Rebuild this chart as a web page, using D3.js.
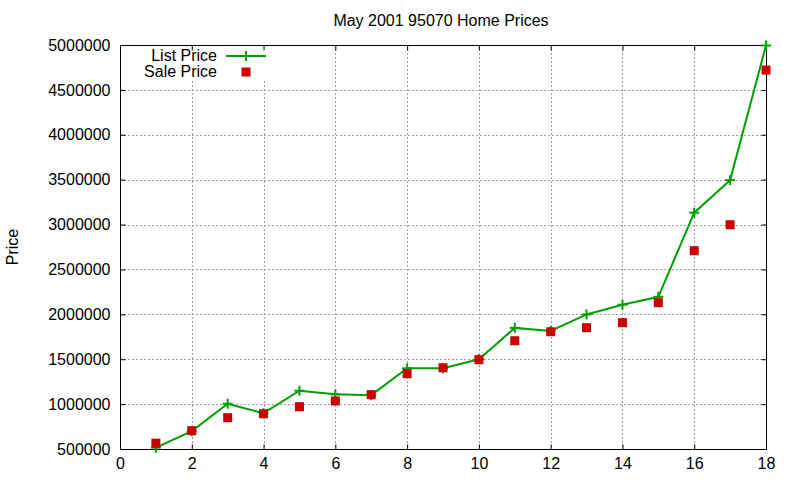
<!DOCTYPE html>
<html><head><meta charset="utf-8">
<script src="https://cdn.jsdelivr.net/npm/d3@7"></script>
<style>body{margin:0;background:#fff}svg{display:block}text{font-family:"Liberation Sans",Arial,sans-serif;}</style>
</head><body><svg id="c" width="800" height="480"></svg>
<script>
const xs = [1,2,3,4,5,6,7,8,9,10,11,12,13,14,15,16,17,18];
const listPrice = [515000,700000,1004000,899000,1149000,1109000,1100000,1399000,1399000,1499000,1849000,1815000,1999000,2107000,2195000,3132000,3495000,4995000];
const salePrice = [565000,704000,849000,893000,971000,1035000,1105000,1339000,1405000,1495000,1706000,1806000,1851000,1907000,2130000,2709000,2998000,4721000];
const xTicks = [0,2,4,6,8,10,12,14,16,18];
const yTicks = [500000,1000000,1500000,2000000,2500000,3000000,3500000,4000000,4500000,5000000];

const svg = d3.select("#c");
const L=120,R=766,T=45,B=449;
const x = d3.scaleLinear().domain([0,18]).range([L,R]);
const y = d3.scaleLinear().domain([500000,5000000]).range([B,T]);

// grid
const g = svg.append("g");
g.selectAll(".vg").data(xTicks.filter(d=>d>0&&d<18)).enter().append("line")
  .attr("x1",d=>Math.round(x(d))+0.5).attr("x2",d=>Math.round(x(d))+0.5).attr("y1",T).attr("y2",B)
  .attr("stroke","#a0a0a0").attr("stroke-dasharray","2,2");
g.selectAll(".hg").data(yTicks.filter(d=>d>500000&&d<5000000)).enter().append("line")
  .attr("x1",L).attr("x2",R).attr("y1",d=>Math.round(y(d))+0.5).attr("y2",d=>Math.round(y(d))+0.5)
  .attr("stroke","#a0a0a0").attr("stroke-dasharray","2,2");

// legend background
svg.append("rect").attr("x",130).attr("y",T+1).attr("width",145).attr("height",33).attr("fill","#fff");

// axes
const fmt = d3.format("d");
const axL = svg.append("g").attr("transform",`translate(${L+0.5},0)`)
  .call(d3.axisLeft(y).tickValues(yTicks).tickFormat(fmt).tickSize(-5).tickPadding(10));
const axR = svg.append("g").attr("transform",`translate(${R+0.5},0)`)
  .call(d3.axisRight(y).tickValues(yTicks).tickFormat("").tickSize(-5));
const axB = svg.append("g").attr("transform",`translate(0,${B+0.5})`)
  .call(d3.axisBottom(x).tickValues(xTicks).tickFormat(fmt).tickSize(-5).tickPadding(8));
const axT = svg.append("g").attr("transform",`translate(0,${T+0.5})`)
  .call(d3.axisTop(x).tickValues(xTicks).tickFormat("").tickSize(-5));
[axL,axR,axB,axT].forEach(a=>{
  a.select(".domain").remove();
  a.selectAll("line").attr("stroke","#000");
  a.selectAll("text").attr("font-size",16).attr("fill","#000").attr("font-family","Liberation Sans, Arial, sans-serif");
});
axB.selectAll("text").attr("dy","0.71em");
svg.append("rect").attr("x",L+0.5).attr("y",T+0.5).attr("width",R-L).attr("height",B-T)
  .attr("fill","none").attr("stroke","#000");

// data line
const pts = xs.map((d,i)=>[d,listPrice[i]]);
svg.append("path").datum(pts)
  .attr("d",d3.line().x(d=>x(d[0])).y(d=>y(d[1])))
  .attr("fill","none").attr("stroke","#00a000").attr("stroke-width",2);
const plus = (sel,cx,cy)=>{
  sel.append("line").attr("x1",cx-5).attr("x2",cx+5).attr("y1",cy).attr("y2",cy).attr("stroke","#00a000").attr("stroke-width",2);
  sel.append("line").attr("x1",cx).attr("x2",cx).attr("y1",cy-5).attr("y2",cy+5).attr("stroke","#00a000").attr("stroke-width",2);
};
const pg = svg.append("g");
pts.forEach(d=>{ if(y(d[1])<=B) plus(pg,x(d[0]),y(d[1])); });

// sale squares
svg.selectAll(".sq").data(xs.map((d,i)=>[d,salePrice[i]])).enter().append("rect")
  .attr("x",d=>x(d[0])-4.5).attr("y",d=>y(d[1])-4.5).attr("width",9).attr("height",9).attr("fill","#cc0000");

// legend
svg.append("text").attr("x",217).attr("y",61).attr("text-anchor","end").attr("font-size",16).text("List Price");
svg.append("line").attr("x1",226).attr("x2",266).attr("y1",56).attr("y2",56).attr("stroke","#00a000").attr("stroke-width",2);
plus(svg,246,56);
svg.append("text").attr("x",217).attr("y",77).attr("text-anchor","end").attr("font-size",16).text("Sale Price");
svg.append("rect").attr("x",241.5).attr("y",67.5).attr("width",9).attr("height",9).attr("fill","#cc0000");

// title & y label
svg.append("text").attr("x",441).attr("y",26).attr("text-anchor","middle").attr("font-size",16).text("May 2001 95070 Home Prices");
svg.append("text").attr("transform","translate(18,247) rotate(-90)").attr("text-anchor","middle").attr("font-size",16).text("Price");
</script></body></html>
